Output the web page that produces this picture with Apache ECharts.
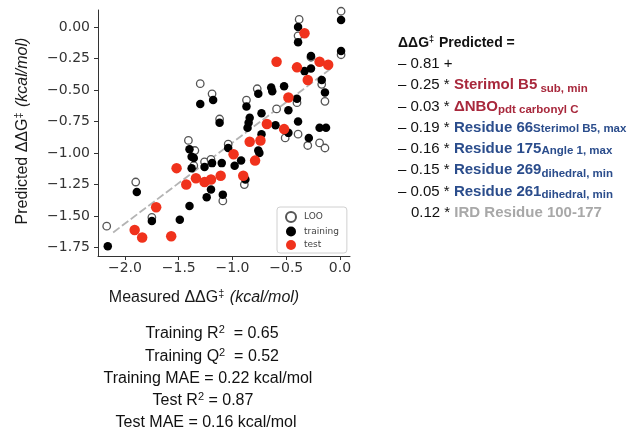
<!DOCTYPE html>
<html><head><meta charset="utf-8">
<script src="https://cdn.jsdelivr.net/npm/echarts@6/dist/echarts.min.js"></script>
<style>html,body{margin:0;padding:0;background:#fff}#c{width:631px;height:429px}</style>
</head><body><div id="c"></div>
<script>
// ---------- data ----------
const looPoints = [
  [-0.38,0.06],[0.01,0.125],[-0.39,-0.07],[-0.27,-0.24],[0.01,-0.22],[-1.30,-0.45],[-1.19,-0.53],
  [-0.17,-0.455],[-0.14,-0.59],[-0.87,-0.58],[-0.77,-0.49],[-1.12,-0.73],[-0.59,-0.65],[-0.40,-0.60],
  [-0.51,-0.88],[-0.39,-0.85],[-1.41,-0.90],[-1.04,-0.93],[-0.30,-0.94],[-0.19,-0.92],[-0.14,-0.96],
  [-1.35,-0.98],[-1.36,-1.10],[-1.26,-1.07],[-1.20,-1.05],[-1.90,-1.23],[-2.17,-1.58],[-1.75,-1.51],
  [-1.09,-1.38],[-0.89,-1.25]
];
const trainingPoints = [
  [0.01,0.056],[-0.39,0.0],[-0.39,-0.12],[-0.27,-0.23],[0.01,-0.19],[-0.33,-0.35],[-0.27,-0.33],
  [-0.17,-0.42],[-0.14,-0.52],[-1.30,-0.61],[-1.18,-0.58],[-0.87,-0.63],[-0.76,-0.53],[-0.64,-0.48],
  [-0.63,-0.51],[-0.52,-0.47],[-0.40,-0.57],[-1.12,-0.76],[-0.84,-0.72],[-0.85,-0.76],[-0.86,-0.80],
  [-0.73,-0.685],[-0.60,-0.78],[-0.48,-0.66],[-0.39,-0.75],[-0.19,-0.80],[-0.13,-0.80],[-0.73,-0.85],
  [-0.48,-0.84],[-0.29,-0.88],[-1.40,-0.97],[-1.04,-0.96],[-1.38,-1.03],[-1.36,-1.04],[-1.38,-1.12],
  [-1.26,-1.11],[-1.19,-1.08],[-1.10,-1.08],[-0.98,-1.10],[-0.92,-1.06],[-0.76,-0.98],[-0.75,-1.00],
  [-0.88,-1.21],[-1.20,-1.29],[-1.24,-1.35],[-1.09,-1.33],[-1.40,-1.42],[-1.89,-1.31],[-1.75,-1.54],
  [-1.49,-1.53],[-2.16,-1.74]
];
const testPoints = [
  [-0.33,-0.05],[-0.59,-0.275],[-0.40,-0.32],[-0.19,-0.275],[-0.11,-0.30],[-0.30,-0.42],[-0.48,-0.56],
  [-0.68,-0.77],[-0.52,-0.81],[-0.84,-0.91],[-0.74,-0.90],[-0.99,-1.01],[-0.79,-1.06],[-1.52,-1.12],
  [-1.34,-1.20],[-1.26,-1.23],[-1.20,-1.21],[-1.11,-1.18],[-0.90,-1.18],[-1.43,-1.25],[-1.71,-1.43],
  [-1.91,-1.61],[-1.84,-1.67],[-1.57,-1.66]
];
const fitLine = [[-2.11,-1.63],[-0.07,-0.32]];
const xTicks = [-2.0,-1.5,-1.0,-0.5,0.0];
const yTicks = [0.0,-0.25,-0.5,-0.75,-1.0,-1.25,-1.5,-1.75];
const seriesNames = ['LOO','training','test'];

const eqHeader = 'Predicted =';
const eqIntercept = '– 0.81 +';
const eqCoefficients = ['– 0.25','– 0.03','– 0.19','– 0.16','– 0.15','– 0.05','0.12'];
const eqNames = ['Sterimol B5','ΔNBO','Residue 66','Residue 175','Residue 269','Residue 261','IRD Residue 100-177'];
const eqSubs = ['sub, min','pdt carbonyl C','Sterimol B5, max','Angle 1, max','dihedral, min','dihedral, min',''];
const eqGroups = ['substrate','substrate','residue','residue','residue','residue','ird'];

const statNames = ['Training R','Training Q','Training MAE','Test R','Test MAE'];
const statSquared = [true,true,false,true,false];
const statValues = ['0.65','0.52','0.22 kcal/mol','0.87','0.16 kcal/mol'];

// ---------- styling ----------
const SANS = '"Liberation Sans", Arial, sans-serif';
const MPL = '"DejaVu Sans", sans-serif';
const groupColor = {substrate:'#a8283c', residue:'#2b4d8c', ird:'#a8a8a8'};

const graphics = [];
function txt(x, y, text, rich, align) {
  graphics.push({type:'text', x:x, y:y, silent:true,
    style:{text:text, rich:rich, align:align||'left', verticalAlign:'middle',
      fontFamily:SANS, fontSize:15, fill:'#111'}});
}

// axis titles
const titleRich = {
  n:{fontFamily:SANS, fontSize:16, fill:'#1a1a1a'},
  i:{fontFamily:SANS, fontSize:16, fontStyle:'italic', fill:'#1a1a1a'},
  s:{fontFamily:SANS, fontSize:11, fill:'#1a1a1a', padding:[0,1,8,0]}
};
txt(204, 298, '{n|Measured ΔΔG}{s|‡}{i| (kcal/mol)}', titleRich, 'center');
graphics.push({type:'text', x:23, y:131, rotation:Math.PI/2, silent:true,
  style:{text:'{n|Predicted ΔΔG}{s|‡}{i| (kcal/mol)}', rich:titleRich, align:'center', verticalAlign:'middle'}});

// stats
const statRich = {
  n:{fontFamily:SANS, fontSize:16, fill:'#111'},
  p:{fontFamily:SANS, fontSize:11, fill:'#111', padding:[0,0,8,0]}
};
const statX = [212, 212, 208, 203, 206];
const statY = [334, 357, 379, 401, 423];
statNames.forEach((n, k) => {
  const t = '{n|' + n + '}' + (statSquared[k] ? '{p|2}{n| ' + (k < 2 ? ' ' : '') + '= ' : '{n| = ') + statValues[k] + '}';
  txt(statX[k], statY[k], t, statRich, 'center');
});

// equation
const eqRich = {
  h:{fontFamily:SANS, fontSize:14, fontWeight:'bold', fill:'#111'},
  hs:{fontFamily:SANS, fontSize:9, fontWeight:'bold', fill:'#111', padding:[0,1,7,0]},
  c:{fontFamily:SANS, fontSize:15, fill:'#111'},
};
Object.keys(groupColor).forEach(g => {
  eqRich['n' + g] = {fontFamily:SANS, fontSize:15, fontWeight:'bold', fill:groupColor[g]};
  eqRich['b' + g] = {fontFamily:SANS, fontSize:11.5, fontWeight:'bold', fill:groupColor[g], padding:[3,0,0,0]};
  eqRich['d' + g] = {fontFamily:SANS, fontSize:11.5, fontWeight:'bold', fill:groupColor[g], padding:[7,0,0,0]};
});
const eqY0 = 42.7, eqDy = 21.25;
txt(398, eqY0, '{h|ΔΔG}{hs|‡}{h| ' + eqHeader + '}', eqRich);
txt(398, eqY0 + eqDy, '{c|' + eqIntercept + '}', eqRich);
eqNames.forEach((nm, k) => {
  const g = eqGroups[k];
  const sub = eqSubs[k];
  const lowered = /min|carbonyl/.test(sub);
  let t = '{c|' + eqCoefficients[k] + ' * }{n' + g + '|' + nm + '}';
  if (sub) t += '{' + (lowered ? 'd' : 'b') + g + '|' + (k === 0 ? ' ' : '') + sub + '}';
  const x = eqCoefficients[k].startsWith('–') ? 398 : 411;
  txt(x, eqY0 + eqDy * (k + 2), t, eqRich);
});

// ---------- chart ----------
const chart = echarts.init(document.getElementById('c'), null, {renderer:'canvas'});
const axisCommon = {
  type:'value', splitLine:{show:false},
  axisLine:{show:true, onZero:false, lineStyle:{color:'#333', width:1}},
  axisTick:{show:true, length:4, lineStyle:{color:'#333'}},
};
chart.setOption({
  animation:false,
  backgroundColor:'#fff',
  grid:{left:98, top:10, width:252, height:246, outerBoundsMode:'none'},
  xAxis:Object.assign({}, axisCommon, {
    min:-2.251, max:0.093,
    axisTick:Object.assign({}, axisCommon.axisTick, {customValues:xTicks}),
    axisLabel:{customValues:xTicks, margin:5, fontFamily:MPL, fontSize:14, color:'#333',
      formatter:v => (v < 0 ? '\u2212' : '') + Math.abs(v).toFixed(1)}
  }),
  yAxis:Object.assign({}, axisCommon, {
    min:-1.817, max:0.135,
    axisTick:Object.assign({}, axisCommon.axisTick, {customValues:yTicks}),
    axisLabel:{customValues:yTicks, margin:8, fontFamily:MPL, fontSize:14, color:'#333',
      formatter:v => (v < 0 ? '\u2212' : '') + Math.abs(v).toFixed(2)}
  }),
  legend:{
    orient:'vertical', left:277, top:207,
    data:seriesNames,
    backgroundColor:'rgba(255,255,255,0.85)', borderColor:'#d0d0d0', borderWidth:1, borderRadius:3,
    padding:[4,8,3,8], itemGap:3.5, itemWidth:16, itemHeight:10,
    textStyle:{fontFamily:MPL, fontSize:9, color:'#444'}
  },
  series:[
    {type:'line', data:fitLine, symbol:'none', silent:true, z:1,
      lineStyle:{color:'#b4b4b4', width:1.8, type:[8,3]}},
    {name:seriesNames[0], type:'scatter', data:looPoints, symbolSize:7.5, z:2,
      itemStyle:{color:'#fff', borderColor:'#555', borderWidth:1.3, opacity:1}},
    {name:seriesNames[1], type:'scatter', data:trainingPoints, symbolSize:8.5, z:3,
      itemStyle:{color:'#000', opacity:1}},
    {name:seriesNames[2], type:'scatter', data:testPoints, symbolSize:10.5, z:4,
      itemStyle:{color:'#f0321c', opacity:1}}
  ],
  graphic:graphics
});
</script></body></html>
